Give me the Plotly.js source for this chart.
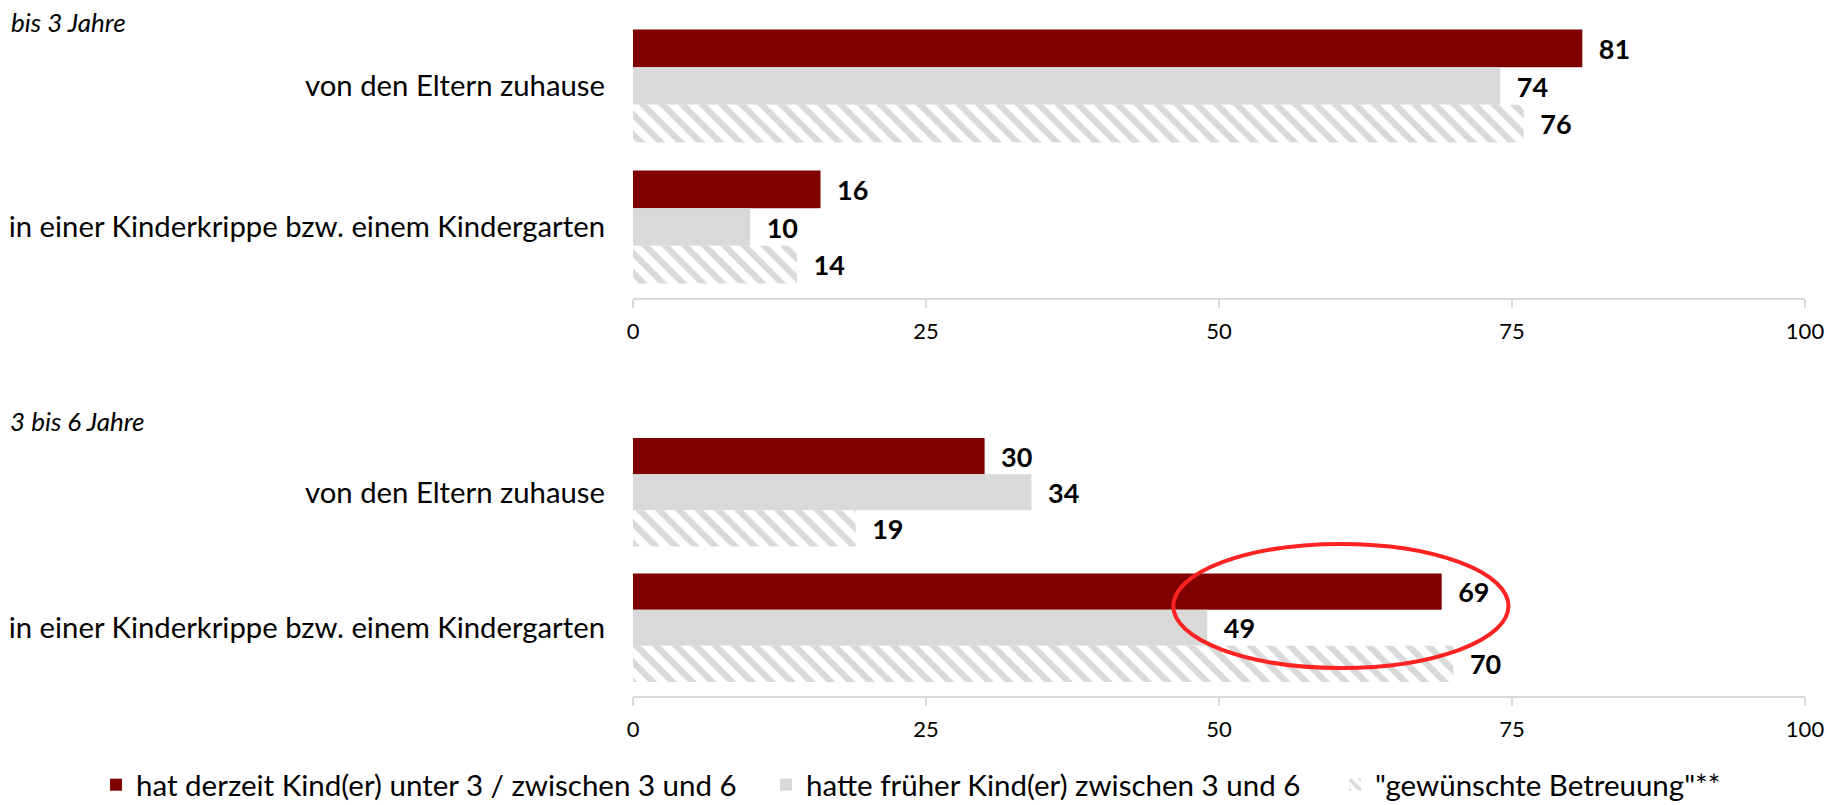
<!DOCTYPE html>
<html>
<head>
<meta charset="utf-8">
<script src="https://cdn.plot.ly/plotly-3.0.1.min.js"></script>
<style>
  html, body { margin: 0; padding: 0; background: #ffffff; overflow: hidden; }
  #wrap { width: 1827px; height: 805px; overflow: hidden; position: relative; }
  #chart { width: 1827px; height: 840px; }
</style>
</head>
<body>
<div id="wrap"><div id="chart"></div></div>
<script>
// ---- data ----
const categories = ["von den Eltern zuhause", "in einer Kinderkrippe bzw. einem Kindergarten"];
const seriesNames = [
  "hat derzeit Kind(er) unter 3 / zwischen 3 und 6",
  "hatte früher Kind(er) zwischen 3 und 6",
  "\"gewünschte Betreuung\"**"
];
const panelTitles = ["bis 3 Jahre", "3 bis 6 Jahre"];
const under3Current = [81, 16];
const under3Former  = [74, 10];
const under3Desired = [76, 14];
const age3to6Current = [30, 69];
const age3to6Former  = [34, 49];
const age3to6Desired = [19, 70];
const xTickValues = [0, 25, 50, 75, 100];

// ---- styling ----
const RED = "#800000";
const GRAY = "#d9d9d9";
const FONT = "Lato, 'Open Sans', sans-serif";
const W = 1827, H = 840;   // figure is a little taller than the 805px view; the empty strip below is clipped
const legendIds = ["legend", "legend2", "legend3"];
const legendX = [96, 766, 1335];

function series(values, idx, xa, ya, showLegend) {
  const t = {
    type: "bar",
    orientation: "h",
    name: seriesNames[idx],
    y: categories,
    x: values,
    xaxis: xa,
    yaxis: ya,
    legend: legendIds[idx],
    showlegend: showLegend,
    texttemplate: "\u2002<b>%{x}</b>",
    textposition: "outside",
    constraintext: "none",
    cliponaxis: false,
    textfont: { family: FONT, size: 27, color: "#000000" },
    hoverinfo: "skip",
    marker: { line: { width: 0 } }
  };
  if (idx === 0) t.marker.color = RED;
  if (idx === 1) t.marker.color = GRAY;
  if (idx === 2) {
    t.marker.color = "#ffffff";
    t.marker.pattern = { shape: "\\", fgcolor: GRAY, bgcolor: "#ffffff", size: 14, solidity: 0.45 };
  }
  return t;
}

const traces = [
  series(under3Current, 0, "x", "y", true),
  series(under3Former, 1, "x", "y", true),
  series(under3Desired, 2, "x", "y", true),
  series(age3to6Current, 0, "x2", "y2", false),
  series(age3to6Former, 1, "x2", "y2", false),
  series(age3to6Desired, 2, "x2", "y2", false)
];

const xDomain = [633 / W, 1805 / W];
function xAxis(anchor) {
  return {
    domain: xDomain,
    anchor: anchor,
    range: [0, 100],
    tickvals: xTickValues,
    ticktext: xTickValues.map(String),
    showgrid: false,
    zeroline: false,
    showline: true,
    linecolor: GRAY,
    linewidth: 2,
    ticks: "outside",
    ticklen: 8,
    tickwidth: 2,
    tickcolor: GRAY,
    ticklabelstandoff: 5,
    tickfont: { family: FONT, size: 22, color: "#000000" },
    fixedrange: true,
    automargin: false
  };
}
function yAxis(anchor, top, bottom) {
  return {
    domain: [1 - bottom / H, 1 - top / H],
    anchor: anchor,
    type: "category",
    range: [1.5, -0.5],
    showgrid: false,
    zeroline: false,
    showline: false,
    ticks: "",
    ticklabelstandoff: 27,
    tickfont: { family: FONT, size: 29.3, color: "#000000" },
    fixedrange: true,
    automargin: false
  };
}

function legendBox(i) {
  return {
    orientation: "h",
    x: legendX[i] / W,
    xanchor: "left",
    y: 1 - 785 / H,
    yanchor: "middle",
    font: { family: FONT, size: 29.5, color: "#000000" },
    bgcolor: "rgba(0,0,0,0)",
    borderwidth: 0
  };
}

const layout = {
  width: W,
  height: H,
  margin: { l: 0, r: 0, t: 0, b: 0, pad: 0 },
  paper_bgcolor: "#ffffff",
  plot_bgcolor: "#ffffff",
  barmode: "group",
  bargap: 0.2,
  bargroupgap: 0,
  font: { family: FONT, color: "#000000" },
  xaxis: xAxis("y"),
  yaxis: yAxis("x", 15.5, 297.5),
  xaxis2: xAxis("y2"),
  yaxis2: yAxis("x2", 424.5, 695.5),
  showlegend: true,
  legend: legendBox(0),
  legend2: legendBox(1),
  legend3: legendBox(2),
  annotations: [
    { text: "<i>" + panelTitles[0] + "</i>", xref: "paper", yref: "paper",
      x: 9 / W, y: 1 - 21.7 / H, xanchor: "left", yanchor: "middle",
      showarrow: false, font: { family: FONT, size: 26, color: "#000000" } },
    { text: "<i>" + panelTitles[1] + "</i>", xref: "paper", yref: "paper",
      x: 8 / W, y: 1 - 421 / H, xanchor: "left", yanchor: "middle",
      showarrow: false, font: { family: FONT, size: 26, color: "#000000" } }
  ],
  shapes: [
    { type: "circle", xref: "x2", yref: "y2",
      x0: 46.1, x1: 74.7, y0: 0.382, y1: 1.297,
      line: { color: "#ff2222", width: 4 }, fillcolor: "rgba(0,0,0,0)", layer: "above" }
  ]
};

Plotly.newPlot("chart", traces, layout, { displayModeBar: false, staticPlot: true });
</script>
</body>
</html>
